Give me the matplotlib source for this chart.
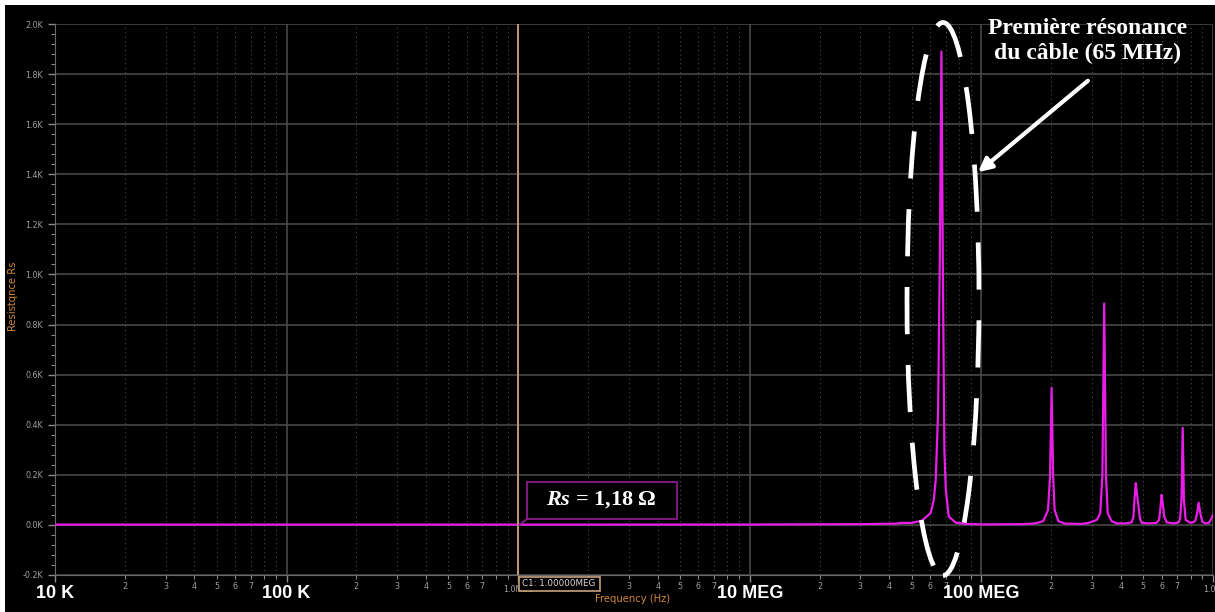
import math
import matplotlib.pyplot as plt
from matplotlib.patches import Rectangle, Ellipse
from matplotlib.ticker import FixedLocator, FuncFormatter, MultipleLocator

freq_mhz = [0.01, 1.0, 10.0, 30.0, 42.7, 45.0, 50.1, 55.3, 60.4, 62.3, 63.5, 65.0,
            66.2, 67.2, 68.2, 69.2, 70.2, 72.3, 77.5, 86.4, 100, 150, 171, 185,
            194, 198, 201, 204, 207, 215, 230, 270, 290, 315, 326, 333, 339, 345,
            351, 365, 384, 420, 445, 453, 458, 464, 470, 476, 484, 492, 530, 570,
            585, 592, 600, 607, 615, 631, 680, 710, 721, 731, 740, 749, 762, 800,
            830, 841, 855, 867, 880, 899, 930, 960, 986, 1000]
rs_ohm = [1.18, 1.18, 1.5, 3, 5, 8, 8, 17, 47, 100, 180, 450,
          1100, 1890, 1000, 300, 140, 33, 9, 4, 2, 3, 6, 15,
          60, 200, 547, 200, 60, 15, 5, 4, 8, 20, 47, 200, 884, 200,
          47, 15, 6, 6, 10, 30, 100, 167, 120, 80, 25, 8, 6, 8,
          20, 60, 120, 85, 35, 10, 6, 10, 25, 100, 387, 100, 20, 8,
          12, 20, 50, 89, 50, 12, 6, 8, 27, 40]

y_ticks = [-200, 0, 200, 400, 600, 800, 1000, 1200, 1400, 1600, 1800, 2000]
decade_labels = ["10 K", "100 K", "10 MEG", "100 MEG"]
decade_pos = [0, 1, 3, 4]  # decades above 10 kHz

W, H = 1215, 612
plt.rcParams['mathtext.fontset'] = 'custom'
plt.rcParams['mathtext.it'] = 'Liberation Serif:italic:bold'
plt.rcParams['mathtext.rm'] = 'Liberation Serif:bold'

fig = plt.figure(figsize=(W / 100, H / 100), dpi=100, facecolor='white')
fig.patches.append(Rectangle((5 / W, 0), 1, 1 - 5 / H, transform=fig.transFigure,
                             facecolor='black', edgecolor='none', zorder=-10))

ax = fig.add_axes([55 / W, 1 - 575 / H, 1158 / W, 551 / H], facecolor='black')
freq_hz = [f * 1e6 for f in freq_mhz]
ax.plot(freq_hz, rs_ohm, color='#e81ee8', lw=1.6, zorder=3)

ax.set_xscale('log')
ax.set_xlim(1e4, 1e9)
ax.set_ylim(-200, 2000)

# y axis
ax.yaxis.set_major_locator(FixedLocator(y_ticks))
ax.yaxis.set_minor_locator(MultipleLocator(40))
ax.yaxis.set_major_formatter(FuncFormatter(lambda v, p: f"{v / 1000:.1f}K"))

# x axis
majors = [1e4, 1e5, 1e6, 1e7, 1e8, 1e9]
minors = [m * d for d in majors[:-1] for m in range(2, 10)]
ax.xaxis.set_major_locator(FixedLocator(majors))
ax.xaxis.set_minor_locator(FixedLocator(minors))
major_txt = {1e6: "1.0MEG", 1e9: "1.0G"}
ax.xaxis.set_major_formatter(FuncFormatter(lambda v, p: major_txt.get(v, "")))


def minor_fmt(v, p):
    m = round(v / 10 ** math.floor(math.log10(v) + 1e-9))
    return str(m) if m <= 7 else ""


ax.xaxis.set_minor_formatter(FuncFormatter(minor_fmt))

ax.tick_params(which='both', colors='#8a8a8a', labelsize=5.8, labelcolor='#a0a0a0')
ax.tick_params(which='major', length=5, width=1)
ax.tick_params(which='minor', length=3, width=0.8)
ax.tick_params(axis='x', which='both', pad=2)

ax.grid(which='major', color='#4d4d4d', lw=1.1, ls='-')
ax.grid(which='minor', axis='x', color='#4d4d4d', lw=0.8, ls=(0, (1, 3)))
for s in ['top', 'right']:
    ax.spines[s].set_visible(False)
for s in ['left', 'bottom']:
    ax.spines[s].set_color('#6a6a6a')

# cursor line
ax.axvline(1e6, color='#c9a27c', lw=1.3, zorder=4)


def px(x, y):
    return x / W, 1 - y / H


# axis titles
fig.text(*px(633, 599), "Frequency (Hz)", color='#d0873a', fontsize=7.2,
         ha='center', va='center')
fig.text(*px(13, 296), "Resistqnce Rs", color='#d0873a', fontsize=7.2,
         rotation=90, ha='center', va='center')

# cursor readout box
fig.patches.append(Rectangle(px(519, 591), 81 / W, 14 / H, transform=fig.transFigure,
                             facecolor='black', edgecolor='#c9a27c', lw=1.2, zorder=2))
fig.text(*px(522, 584), "C1: 1.00000MEG", color='#d8d8d8', fontsize=6.3,
         ha='left', va='center', zorder=3)

# big decade labels
for d, lab in zip(decade_pos, decade_labels):
    fig.text(*px(55 + 1158 * d / 5, 593), lab, color='white', fontsize=13,
             fontweight='bold', family='Liberation Sans', ha='center', va='center')

# Rs annotation box
fig.patches.append(Rectangle(px(527, 519), 150 / W, 37 / H, transform=fig.transFigure,
                             facecolor='black', edgecolor='#8b1a8b', lw=1.3, zorder=2))
fig.lines.append(plt.Line2D([527 / W, 519 / W], [1 - 519 / H, 1 - 525 / H],
                            transform=fig.transFigure, color='#8b1a8b', lw=1.3))
fig.text(*px(601, 500), r"$\mathit{Rs}$ = 1,18 Ω", color='white', fontsize=16,
         fontweight='bold', family='Liberation Serif', ha='center', va='center',
         zorder=3)

# dashed ellipse around first resonance
fig.patches.append(Ellipse(px(943, 299), 72 / W, 553 / H, transform=fig.transFigure,
                           fill=False, edgecolor='white', lw=3.4,
                           ls=(4, (10, 6.5)), zorder=5))

# arrow + comment
ax.annotate('', xy=(976, H - 174), xytext=(1090, H - 79), xycoords='figure pixels',
            textcoords='figure pixels',
            arrowprops=dict(arrowstyle='-|>', color='white', lw=3, mutation_scale=20))
fig.text(*px(1088, 18), "Première résonance\ndu câble (65 MHz)", color='white',
         fontsize=17, fontweight='bold', family='Liberation Serif', ha='center',
         va='top', linespacing=1.22)

fig.savefig("out.png", dpi=100, facecolor='white')
